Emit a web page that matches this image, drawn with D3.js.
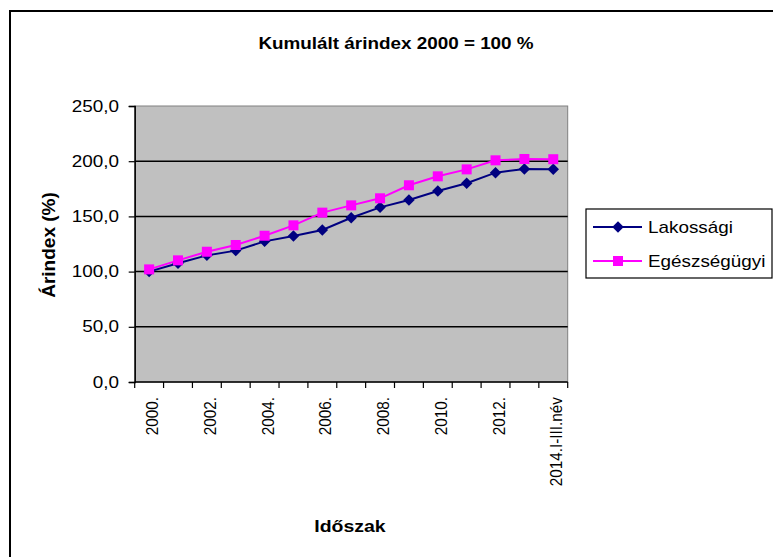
<!DOCTYPE html>
<html><head><meta charset="utf-8">
<script src="https://cdn.jsdelivr.net/npm/d3@7"></script>
<style>body{margin:0;background:#fff}svg{display:block}text{font-family:"Liberation Sans",Arial,sans-serif}</style>
</head><body>
<script>
const categories = ["2000.","2001.","2002.","2003.","2004.","2005.","2006.","2007.","2008.","2009.","2010.","2011.","2012.","2013.","2014.I-III.név"];
const lakossagi = [100,107.5,114.7,119,127.4,132.2,137.7,148.8,158.2,164.9,173,180,189.6,192.9,192.8];
const egeszsegugyi = [102,110.2,118,124.1,132.5,141.9,153.4,160,166.4,178.2,186.3,192.6,200.8,202,201.8];
const yTicks = [0,50,100,150,200,250];
const seriesNames = ["Lakossági","Egészségügyi"];
const title = "Kumulált árindex 2000 = 100 %";
const xTitle = "Időszak";
const yTitle = "Árindex (%)";

const W = 773, H = 557, SX = 1.18;
const svg = d3.select("body").append("svg").attr("width", W).attr("height", H);

svg.append("rect").attr("x",10).attr("y",11).attr("width",800).attr("height",600)
  .attr("fill","#fff").attr("stroke","#000").attr("stroke-width",2);

const L = 134.7, R = 567.7, T = 106, B = 382;
const x = d3.scaleBand().domain(categories).range([L, R]);
const y = d3.scaleLinear().domain([0, 250]).range([B, T]);

function htext(g, px, py) {
  return g.append("text").attr("transform", `translate(${px},${py}) scale(${SX},1)`);
}

// plot area
svg.append("rect").attr("x",L).attr("y",T).attr("width",R-L).attr("height",B-T)
  .attr("fill","#c0c0c0").attr("stroke","#808080").attr("stroke-width",1);

// gridlines
svg.append("g").selectAll("line").data(yTicks.filter(d=>d>0 && d<250)).join("line")
  .attr("x1",L).attr("x2",R).attr("y1",d=>y(d)).attr("y2",d=>y(d))
  .attr("stroke","#000").attr("stroke-width",1.5);

// y axis
const yAxis = svg.append("g").attr("transform",`translate(${L},0)`)
  .call(d3.axisLeft(y).tickValues(yTicks).tickSize(6).tickFormat(()=>""));
yAxis.select(".domain").attr("stroke","#000").attr("stroke-width",1.5);
yAxis.selectAll(".tick line").attr("stroke","#000").attr("stroke-width",1.2);
const yl = svg.append("g");
yTicks.forEach(v => {
  htext(yl, 119, y(v)).attr("text-anchor","end").attr("dy","0.35em")
    .attr("font-size",16).attr("fill","#000").text(d3.format(".1f")(v).replace(".",","));
});

// x axis
svg.append("line").attr("x1",L).attr("x2",R).attr("y1",B).attr("y2",B)
  .attr("stroke","#000").attr("stroke-width",1.5);
const bounds = categories.map(c => x(c)).concat([R]);
svg.append("g").selectAll("line").data(bounds).join("line")
  .attr("x1",d=>d).attr("x2",d=>d).attr("y1",B).attr("y2",B+6)
  .attr("stroke","#000").attr("stroke-width",1.2);
svg.append("g").selectAll("text").data(categories.filter((c,i)=>i%2===0)).join("text")
  .attr("transform", d => `translate(${x(d)+x.bandwidth()/2+3},397) rotate(-90) scale(1,1.12)`)
  .attr("text-anchor","end").attr("dy","0.35em").attr("font-size",15.3).text(d=>d);

// lines
const line = d3.line().x((d,i)=>x(categories[i])+x.bandwidth()/2).y(d=>y(d));
svg.append("path").datum(egeszsegugyi).attr("d",line).attr("fill","none")
  .attr("stroke","#ff00ff").attr("stroke-width",2);
svg.append("path").datum(lakossagi).attr("d",line).attr("fill","none")
  .attr("stroke","#000080").attr("stroke-width",2);

const diamond = d3.symbol().type(d3.symbolSquare).size(66);
svg.append("g").selectAll("path").data(lakossagi).join("path")
  .attr("d", diamond)
  .attr("transform",(d,i)=>`translate(${x(categories[i])+x.bandwidth()/2},${y(d)}) rotate(45)`)
  .attr("fill","#000080");
svg.append("g").selectAll("rect").data(egeszsegugyi).join("rect")
  .attr("x",(d,i)=>x(categories[i])+x.bandwidth()/2-5).attr("y",d=>y(d)-5)
  .attr("width",10).attr("height",10).attr("fill","#ff00ff");

// title
htext(svg, 396, 49).attr("text-anchor","middle").attr("font-size",16).attr("font-weight","bold").text(title);
htext(svg, 350, 532).attr("text-anchor","middle").attr("font-size",16.5).attr("font-weight","bold").text(xTitle);
svg.append("text").attr("transform","translate(48,245) rotate(-90)").attr("text-anchor","middle")
  .attr("dy","0.35em").attr("font-size",19).attr("font-weight","bold").text(yTitle);

// legend
svg.append("rect").attr("x",586).attr("y",209).attr("width",186).attr("height",69)
  .attr("fill","#fff").attr("stroke","#000").attr("stroke-width",1.2);
const ly = [227, 261];
const cols = ["#000080","#ff00ff"];
ly.forEach((yy,i) => {
  svg.append("line").attr("x1",593).attr("x2",642).attr("y1",yy).attr("y2",yy)
    .attr("stroke",cols[i]).attr("stroke-width",2);
  if (i===0) svg.append("path").attr("d",diamond).attr("transform",`translate(618,${yy}) rotate(45)`).attr("fill",cols[i]);
  else svg.append("rect").attr("x",613).attr("y",yy-5).attr("width",10).attr("height",10).attr("fill",cols[i]);
  htext(svg, 648, yy).attr("dy","0.35em").attr("font-size",16).text(seriesNames[i]);
});
</script>
</body></html>
